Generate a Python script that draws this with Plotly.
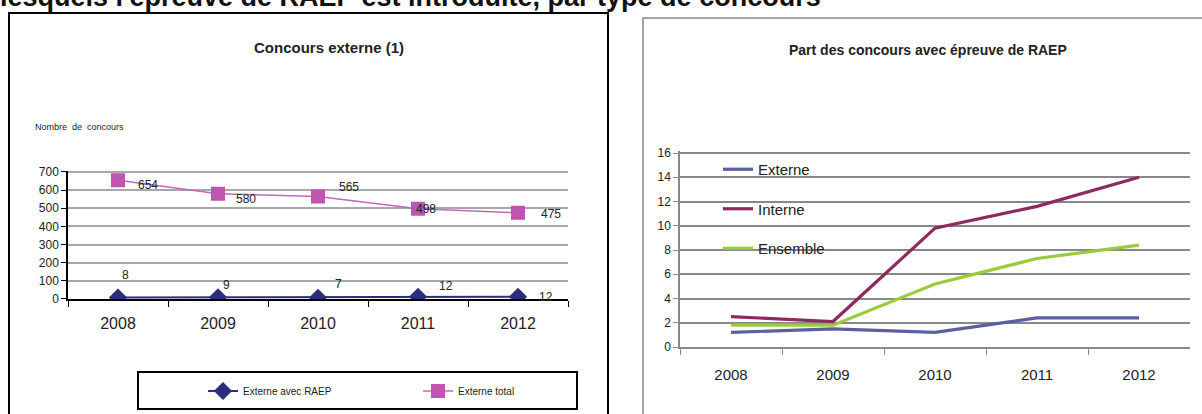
import plotly.graph_objects as go

W, H = 1202, 414

# ---- data ----
years = ["2008", "2009", "2010", "2011", "2012"]
externe_raep = [8, 9, 7, 12, 12]
externe_total = [654, 580, 565, 498, 475]

part_externe = [1.2, 1.5, 1.2, 2.4, 2.4]
part_interne = [2.5, 2.1, 9.8, 11.6, 14.0]
part_ensemble = [1.8, 1.8, 5.2, 7.3, 8.4]

left_yticks = [0, 100, 200, 300, 400, 500, 600, 700]
right_yticks = [0, 2, 4, 6, 8, 10, 12, 14, 16]


def px(x):
    return x / W


def py(y):
    return 1 - y / H


FONT = "Liberation Sans, Arial, sans-serif"

fig = go.Figure()

# left chart
fig.add_trace(go.Scatter(
    x=years, y=externe_raep, name="Externe avec RAEP", mode="lines+markers",
    line=dict(color="#2B2D7C", width=2),
    marker=dict(symbol="diamond", size=14, color="#2B2D7C"),
    xaxis="x", yaxis="y", legend="legend"))
fig.add_trace(go.Scatter(
    x=years, y=externe_total, name="Externe total", mode="lines+markers",
    line=dict(color="#C767B8", width=1.5),
    marker=dict(symbol="square", size=14, color="#BF55B0"),
    xaxis="x", yaxis="y", legend="legend"))

# right chart
for name, vals, col in [("Externe", part_externe, "#5B5FA0"),
                        ("Interne", part_interne, "#8E2B5E"),
                        ("Ensemble", part_ensemble, "#9BCB3C")]:
    fig.add_trace(go.Scatter(
        x=years, y=vals, name=name, mode="lines",
        line=dict(color=col, width=3.2),
        xaxis="x2", yaxis="y2", legend="legend2", legendgroup=name))

annotations = []
# data labels (pixel offsets from each point); x given as category index
total_off = [(30, -5), (28, -5), (31, 9), (8, 0), (33, -1)]
raep_off = [(7, 23), (8, 12), (20, 14), (28, 11), (28, 0)]
for i, (v, (dx, dy)) in enumerate(zip(externe_total, total_off)):
    annotations.append(dict(x=i, y=v, xref="x", yref="y", text=str(v), showarrow=False,
                            xshift=dx, yshift=dy, font=dict(family=FONT, size=12, color="#222")))
for i, (v, (dx, dy)) in enumerate(zip(externe_raep, raep_off)):
    annotations.append(dict(x=i, y=v, xref="x", yref="y", text=str(v), showarrow=False,
                            xshift=dx, yshift=dy, font=dict(family=FONT, size=12, color="#222")))

# titles and texts
annotations += [
    dict(x=px(-2), y=py(14), xref="paper", yref="paper", xanchor="left", yanchor="bottom",
         text="<b>lesquels l'épreuve de RAEP est introduite, par type de concours</b>",
         showarrow=False, font=dict(family=FONT, size=27, color="#111")),
    dict(x=px(329), y=py(48), xref="paper", yref="paper", xanchor="center", yanchor="middle",
         text="<b>Concours externe (1)</b>", showarrow=False,
         font=dict(family=FONT, size=15, color="#222")),
    dict(x=px(33), y=py(127), xref="paper", yref="paper", xanchor="left", yanchor="middle",
         text="Nombre  de  concours", showarrow=False,
         font=dict(family=FONT, size=9, color="#222")),
    dict(x=px(928), y=py(50), xref="paper", yref="paper", xanchor="center", yanchor="middle",
         text="<b>Part des concours avec épreuve de RAEP</b>", showarrow=False,
         font=dict(family=FONT, size=14, color="#222")),
]

shapes = [
    dict(type="rect", xref="paper", yref="paper", x0=px(9), x1=px(608), y0=py(430), y1=py(13),
         line=dict(color="#000", width=2)),
    dict(type="rect", xref="paper", yref="paper", x0=px(643), x1=px(1215), y0=py(430), y1=py(18),
         line=dict(color="#888", width=1.5)),
    dict(type="rect", xref="paper", yref="paper", x0=px(138), x1=px(577), y0=py(409), y1=py(372),
         line=dict(color="#000", width=2)),
]

left_unit = (299 - 172) / 700.0
right_unit = (347 - 153) / 16.0

fig.update_layout(
    width=W, height=H, margin=dict(l=0, r=0, t=0, b=0, autoexpand=False),
    paper_bgcolor="white", plot_bgcolor="rgba(0,0,0,0)",
    font=dict(family=FONT, color="#222"),
    annotations=annotations, shapes=shapes,
    xaxis=dict(domain=[px(68), px(568)], type="category", range=[-0.5, 4.5],
               tickson="boundaries",
               ticks="outside", ticklen=6, tickcolor="#000", showline=True, linecolor="#000",
               linewidth=2, showgrid=False, tickfont=dict(size=16, color="#222"), anchor="y",
               tickangle=0, ticklabelstandoff=9),
    yaxis=dict(domain=[py(299), py(299 - 708 * left_unit)], range=[0, 708],
               tickvals=left_yticks, ticks="outside", ticklen=5, tickcolor="#000",
               showline=True, linecolor="#000", linewidth=1.5,
               gridcolor="#A8A8A8", gridwidth=1.5, zeroline=False,
               tickfont=dict(size=12, color="#222"), anchor="x"),
    xaxis2=dict(domain=[px(680), px(1190)], type="category", range=[-0.5, 4.5],
                tickson="boundaries",
                ticks="outside", ticklen=6, tickcolor="#888", showline=True, linecolor="#888",
                linewidth=1.5, showgrid=False, tickfont=dict(size=15, color="#222"), anchor="y2",
                ticklabelstandoff=13, tickangle=0),
    yaxis2=dict(domain=[py(347), py(347 - 16.15 * right_unit)], range=[0, 16.15],
                tickvals=right_yticks, ticks="outside", ticklen=5, tickcolor="#888",
                showline=True, linecolor="#888", linewidth=1.5,
                gridcolor="#888", gridwidth=1.5, zeroline=False,
                tickfont=dict(size=12, color="#222"), anchor="x2"),
    legend=dict(orientation="h", x=px(203), y=py(391), xanchor="left", yanchor="middle",
                entrywidth=170, entrywidthmode="pixels", bgcolor="rgba(0,0,0,0)",
                font=dict(size=10, color="#222")),
    legend2=dict(x=px(718), y=py(153), xanchor="left", yanchor="top",
                 traceorder="grouped", tracegroupgap=17, bgcolor="rgba(0,0,0,0)",
                 font=dict(size=15, color="#222")),
    showlegend=True,
)

fig.write_html("out.html", config={"displayModeBar": False},
               post_script="document.body.style.margin='0';")
